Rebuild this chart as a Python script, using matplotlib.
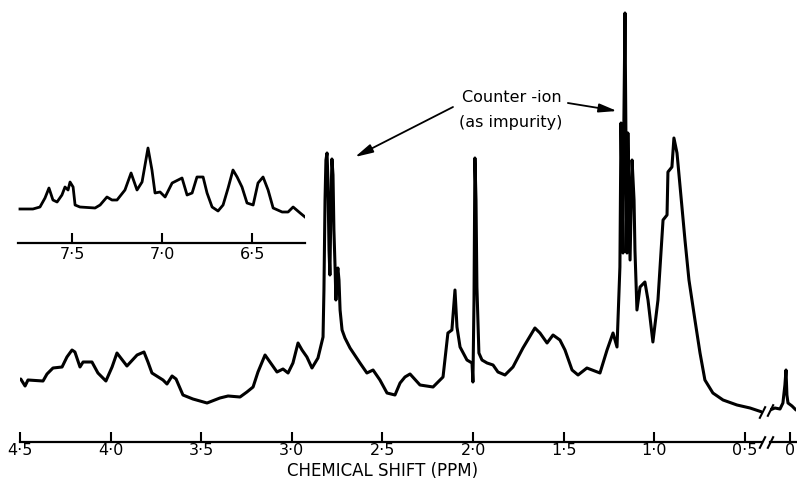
import matplotlib
matplotlib.use("Agg")
import matplotlib.pyplot as plt

plt.rcParams['font.family'] = ['DejaVu Sans']

# ---------------- data ----------------
# main spectrum, left of the axis break (ppm, intensity in arbitrary units)
main_ppm = [4.496, 4.472, 4.456, 4.373, 4.351, 4.318, 4.268, 4.241, 4.213, 4.197,
            4.169, 4.152, 4.103, 4.070, 4.026, 3.992, 3.965, 3.910, 3.854, 3.816,
            3.794, 3.772, 3.711, 3.689, 3.661, 3.639, 3.601, 3.546, 3.468, 3.397,
            3.352, 3.286, 3.248, 3.214, 3.187, 3.148, 3.121, 3.082, 3.049, 3.021,
            2.994, 2.966, 2.944, 2.917, 2.889, 2.856, 2.828, 2.823, 2.817, 2.812,
            2.806, 2.801, 2.795, 2.790, 2.784, 2.779, 2.773, 2.768, 2.762, 2.757,
            2.751, 2.746, 2.740, 2.734, 2.723, 2.707, 2.679, 2.624, 2.586, 2.552,
            2.514, 2.475, 2.431, 2.403, 2.376, 2.348, 2.293, 2.221, 2.166, 2.139,
            2.117, 2.100, 2.089, 2.072, 2.034, 2.006, 2.001, 1.995, 1.990, 1.984,
            1.979, 1.968, 1.951, 1.923, 1.890, 1.863, 1.824, 1.780, 1.725, 1.659,
            1.631, 1.592, 1.559, 1.521, 1.493, 1.454, 1.421, 1.372, 1.300, 1.261,
            1.228, 1.206, 1.190, 1.184, 1.179, 1.173, 1.168, 1.162, 1.157, 1.151,
            1.146, 1.134, 1.123, 1.112, 1.107, 1.096, 1.079, 1.052, 1.035, 1.008,
            0.980, 0.952, 0.930, 0.925, 0.903, 0.892, 0.875, 0.848, 0.831, 0.809,
            0.776, 0.748, 0.721, 0.677, 0.621, 0.544, 0.472, 0.406]
main_int = [63, 56, 62, 61, 68, 74, 75, 85, 92, 90,
            75, 80, 80, 69, 61, 75, 89, 76, 87, 90,
            80, 69, 62, 58, 66, 63, 47, 43, 39, 44,
            46, 45, 50, 55, 70, 87, 80, 70, 73, 69,
            79, 99, 92, 85, 74, 84, 105, 152, 242, 282,
            289, 262, 192, 167, 242, 283, 267, 212, 177, 142,
            167, 174, 162, 132, 112, 104, 94, 79, 69, 72,
            62, 49, 47, 59, 65, 68, 57, 55, 65, 109,
            112, 152, 115, 95, 82, 79, 60, 142, 284, 242,
            155, 89, 82, 79, 77, 70, 67, 75, 94, 114,
            109, 99, 107, 102, 92, 72, 67, 74, 69, 92,
            109, 95, 175, 319, 262, 189, 322, 429, 312, 189,
            309, 182, 282, 242, 192, 132, 155, 160, 142, 100,
            142, 222, 227, 270, 275, 304, 289, 235, 202, 162,
            122, 89, 62, 49, 42, 37, 34, 30]

# reference (TMS) segment, right of the axis break
tms_ppm = [0.110, 0.083, 0.055, 0.039, 0.028, 0.022, 0.017, 0.011, -0.011, -0.033]
tms_int = [32, 34, 33, 39, 57, 72, 47, 39, 36, 32]

# aromatic region inset
inset_ppm = [7.789, 7.717, 7.678, 7.650, 7.628, 7.606, 7.583, 7.556, 7.539, 7.522,
             7.511, 7.494, 7.483, 7.456, 7.372, 7.344, 7.306, 7.278, 7.250, 7.206,
             7.172, 7.139, 7.111, 7.078, 7.056, 7.039, 7.011, 6.983, 6.944, 6.889,
             6.861, 6.833, 6.806, 6.772, 6.750, 6.722, 6.689, 6.661, 6.633, 6.606,
             6.583, 6.556, 6.528, 6.494, 6.467, 6.439, 6.411, 6.383, 6.333, 6.300,
             6.272, 6.233, 6.206]
inset_int = [34, 34, 36, 45, 55, 43, 41, 48, 56, 53,
             61, 56, 38, 36, 35, 38, 46, 43, 43, 53,
             70, 53, 61, 95, 73, 50, 51, 46, 60, 65,
             48, 50, 66, 66, 50, 36, 32, 38, 55, 73,
             66, 56, 40, 38, 60, 66, 53, 35, 31, 31,
             36, 30, 26]

main_ticks = [4.5, 4.0, 3.5, 3.0, 2.5, 2.0, 1.5, 1.0, 0.5]
main_tick_labels = ['4·5', '4·0', '3·5', '3·0', '2·5', '2·0', '1·5', '1·0', '0·5']
tms_ticks = [0.0]
tms_tick_labels = ['0']
inset_ticks = [7.5, 7.0, 6.5]
inset_tick_labels = ['7·5', '7·0', '6·5']

xlabel = 'CHEMICAL SHIFT (PPM)'
note_line1 = 'Counter -ion'
note_line2 = '(as impurity)'

# ---------------- layout ----------------
W, H = 797, 483
fig = plt.figure(figsize=(W / 100, H / 100), dpi=100)


def px_box(x0, x1, ytop, ybot):
    return [x0 / W, 1 - ybot / H, (x1 - x0) / W, (ybot - ytop) / H]


ax = fig.add_axes(px_box(20, 762, 0, 442))
ax2 = fig.add_axes(px_box(770, 796, 0, 442))
axi = fig.add_axes(px_box(18, 305, 133, 243))

for a in (ax, ax2, axi):
    for s in ('top', 'left', 'right'):
        a.spines[s].set_visible(False)
    a.spines['bottom'].set_linewidth(1.6)
    a.set_yticks([])
    a.set_facecolor('none')
    a.tick_params(axis='x', direction='in', length=7, width=1.5,
                  labelsize=11.5, color='k')

ax.tick_params(axis='x', pad=1)
ax2.tick_params(axis='x', pad=1)
axi.tick_params(axis='x', pad=3)

line_kw = dict(color='k', lw=2.2, solid_joinstyle='round', solid_capstyle='round')
ax.plot(main_ppm, main_int, **line_kw)
ax2.plot(tms_ppm, tms_int, **line_kw)
axi.plot(inset_ppm, inset_int, color='k', lw=2.0, solid_joinstyle='round')

ax.set_xlim(4.5, 0.406)
ax2.set_xlim(0.110, -0.033)
ax.set_ylim(0, 442)
ax2.set_ylim(0, 442)
axi.set_xlim(7.8, 6.206)
axi.set_ylim(0, 110)

ax.set_xticks(main_ticks)
ax.set_xticklabels(main_tick_labels)
ax2.set_xticks(tms_ticks)
ax2.set_xticklabels(tms_tick_labels)
axi.set_xticks(inset_ticks)
axi.set_xticklabels(inset_tick_labels)

# axis-break marks
bk = dict(marker=[(-0.5, -1), (0.5, 1)], markersize=9, linestyle='none',
          color='k', mec='k', mew=1.5, clip_on=False)
ax.plot([1], [0], transform=ax.transAxes, **bk)
ax2.plot([0], [0], transform=ax2.transAxes, **bk)
ax.plot([main_ppm[-1]], [main_int[-1]], **bk)
ax2.plot([tms_ppm[0]], [tms_int[0]], **bk)

fig.text(383 / W, 1 - 471 / H, xlabel, ha='center', va='center', fontsize=12)

# annotation
ax.text(1.785, 344, note_line1, ha='center', va='center', fontsize=11.5)
ax.text(1.791, 319, note_line2, ha='center', va='center', fontsize=11.5)
arrow = dict(arrowstyle='-|>,head_length=0.9,head_width=0.22', lw=1.3,
             color='k', shrinkA=0, shrinkB=0, mutation_scale=12)
ax.annotate('', xy=(2.652, 285), xytext=(2.111, 335), arrowprops=arrow)
ax.annotate('', xy=(1.206, 331), xytext=(1.477, 339), arrowprops=arrow)

fig.savefig('out.png', dpi=100)
